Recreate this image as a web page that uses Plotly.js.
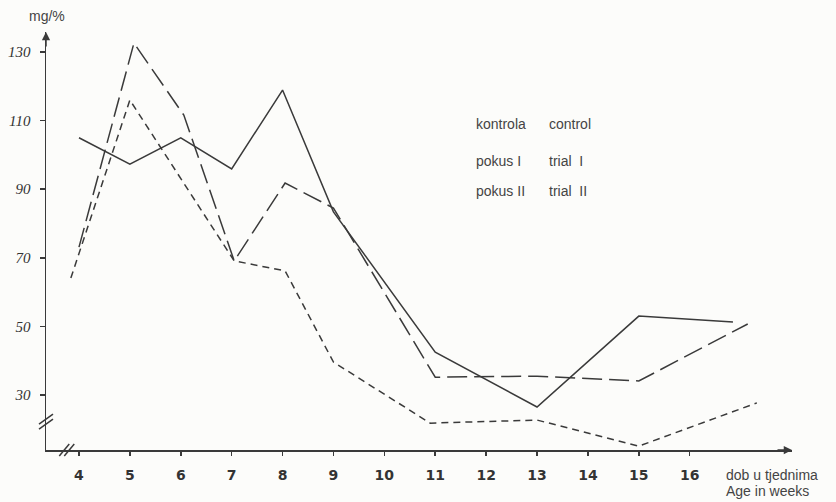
<!DOCTYPE html>
<html>
<head>
<meta charset="utf-8">
<script src="https://cdn.plot.ly/plotly-3.0.1.min.js"></script>
<style>
html,body{margin:0;padding:0;background:#fcfcfa;}
#chart{width:836px;height:502px;}
</style>
</head>
<body>
<div id="chart"></div>
<script>
// Values (week, mg/%)
const weeksKontrola = [4, 5, 6, 7, 8, 9, 11, 13, 15, 16.85];
const kontrola      = [105, 97.3, 105, 95.9, 118.9, 83.4, 42.5, 26.5, 53.0, 51.3];

const weeksPokus1 = [4, 5.08, 6.06, 7.05, 8.05, 9, 11, 13, 15, 17.14];
const pokus1      = [73.1, 132.6, 111.6, 69.1, 91.8, 84.5, 35.2, 35.5, 34.1, 50.7];

const weeksPokus2 = [3.84, 5, 7.05, 8.05, 9, 10.9, 13, 15, 17.32];
const pokus2      = [64.1, 116.0, 69.1, 66.2, 39.6, 21.8, 22.7, 15.1, 27.7];

const xTicks = [4, 5, 6, 7, 8, 9, 10, 11, 12, 13, 14, 15, 16];
const yTicks = [30, 50, 70, 90, 110, 130];
const yTickText = ['30', '50', '70', '90', '110', '130'];

const legendLeft  = ['kontrola', 'pokus I', 'pokus II'];
const legendRight = ['control', 'trial  I', 'trial  II'];
const xAxisTitle  = ['dob u tjednima', 'Age in weeks'];

const ink = '#3a3a3a';
const xRange = [3.352, 18.01];
const yRange = [13.97, 135.83];

const traces = [
  {x: weeksKontrola, y: kontrola, mode: 'lines', name: 'kontrola',
   line: {color: ink, width: 1.5}},
  {x: weeksPokus1, y: pokus1, mode: 'lines', name: 'pokus I',
   line: {color: ink, width: 1.5, dash: '20px,7px'}},
  {x: weeksPokus2, y: pokus2, mode: 'lines', name: 'pokus II',
   line: {color: ink, width: 1.5, dash: '7px,5px'}}
];

const textFont = {family: 'Liberation Sans, Arial', size: 14, color: '#444'};

const annotations = [
  {xref: 'paper', yref: 'paper', x: 0, y: 1, xanchor: 'center', yanchor: 'middle',
   xshift: 1, yshift: 16, text: 'mg/%', showarrow: false,
   font: {family: 'Liberation Sans, Arial', size: 14, color: '#444'}},
  {xref: 'paper', yref: 'paper', x: 1, y: 0, xanchor: 'left', yanchor: 'middle',
   xshift: -68, yshift: -25, text: xAxisTitle[0], showarrow: false, font: textFont},
  {xref: 'paper', yref: 'paper', x: 1, y: 0, xanchor: 'left', yanchor: 'middle',
   xshift: -68, yshift: -41, text: xAxisTitle[1], showarrow: false, font: textFont},
  // axis arrows
  {x: xRange[0], y: yRange[1], ax: 0, ay: 16, xref: 'x', yref: 'y', text: '',
   showarrow: true, arrowhead: 2, arrowsize: 1.1, arrowwidth: 1.5, arrowcolor: ink},
  {x: xRange[1], y: yRange[0], ax: -16, ay: 0, xref: 'x', yref: 'y', text: '',
   showarrow: true, arrowhead: 2, arrowsize: 1.1, arrowwidth: 1.5, arrowcolor: ink}
];
const legendY = [0.781, 0.691, 0.619];
legendLeft.forEach((t, i) => {
  annotations.push({xref: 'paper', yref: 'paper', x: 0.574, y: legendY[i],
    xanchor: 'left', yanchor: 'middle', text: t, showarrow: false, font: textFont});
  annotations.push({xref: 'paper', yref: 'paper', x: 0.671, y: legendY[i],
    xanchor: 'left', yanchor: 'middle', text: legendRight[i], showarrow: false, font: textFont});
});

// axis break marks (paper-anchored so they are not clipped)
function breakMark(xa, ya, dx0, dy0, dx1, dy1) {
  return {type: 'line', xref: 'paper', yref: 'paper',
    xsizemode: 'pixel', ysizemode: 'pixel', xanchor: xa, yanchor: ya,
    x0: dx0, y0: dy0, x1: dx1, y1: dy1, line: {color: ink, width: 1.5}};
}
const yBreakPaper = 0.0667, xBreakPaper = 0.0285;
const shapes = [
  breakMark(0, yBreakPaper, -7, -7, 7, 3),
  breakMark(0, yBreakPaper, -7, -2, 7, 8),
  breakMark(xBreakPaper, 0, -8, -6, 2, 6),
  breakMark(xBreakPaper, 0, -3, -6, 7, 6)
];

const layout = {
  width: 836, height: 502,
  margin: {l: 46, r: 44, t: 32, b: 52},
  paper_bgcolor: '#fcfcfa', plot_bgcolor: '#fcfcfa',
  showlegend: false,
  xaxis: {range: xRange, showgrid: false, zeroline: false, showline: true,
    linecolor: ink, linewidth: 1.5, ticks: 'outside', ticklen: 4, tickwidth: 1.5,
    tickcolor: ink, tickvals: xTicks, ticktext: xTicks.map(String),
    ticklabelstandoff: 8, automargin: false,
    tickfont: {family: 'DejaVu Sans, Liberation Sans', size: 14, color: '#333', weight: 'bold'}},
  yaxis: {range: yRange, showgrid: false, zeroline: false, showline: true,
    linecolor: ink, linewidth: 1.5, ticks: 'outside', ticklen: 5, tickwidth: 1.5,
    tickcolor: ink, tickvals: yTicks, ticktext: yTickText,
    ticklabelstandoff: 6, automargin: false,
    tickfont: {family: 'Liberation Serif, DejaVu Serif', size: 15, color: '#333', style: 'italic'}},
  annotations: annotations,
  shapes: shapes
};

Plotly.newPlot('chart', traces, layout, {displayModeBar: false, staticPlot: true});
</script>
</body>
</html>
